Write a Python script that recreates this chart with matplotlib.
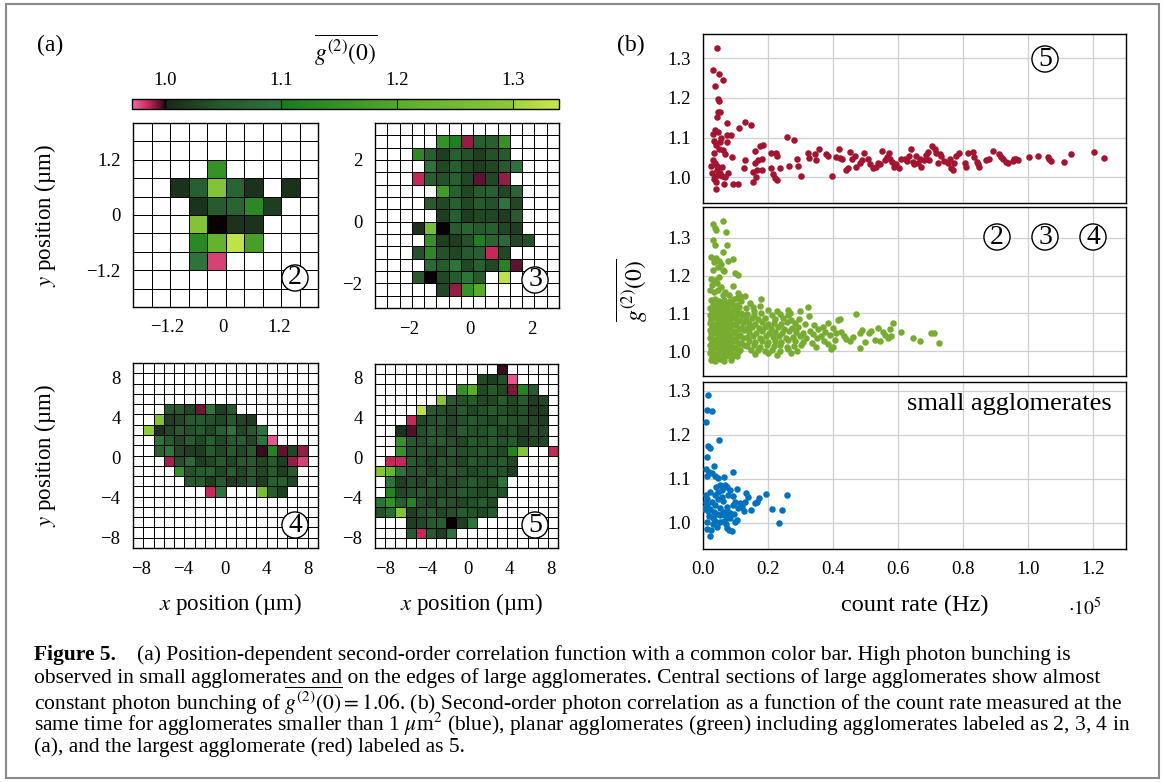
import numpy as np
import matplotlib
matplotlib.use("Agg")
import matplotlib.pyplot as plt
from matplotlib.colors import LinearSegmentedColormap, Normalize
from matplotlib.patches import Rectangle

plt.rcParams['font.family'] = ['Liberation Serif', 'DejaVu Serif']
plt.rcParams['mathtext.fontset'] = 'stix'

n = np.nan

# ---- (a) g2(0) maps, rows top -> bottom ----
map2 = [
    [n, n, n, n, n, n, n, n, n, n],
    [n, n, n, n, n, n, n, n, n, n],
    [n, n, n, n, 1.15, n, n, n, n, n],
    [n, n, 1.01, 1.06, 1.28, 1.07, 1.01, n, 1.01, n],
    [n, n, n, 1.01, 1.05, 1.07, 1.13, 1.02, n, n],
    [n, n, n, 1.28, 1.0, 1.01, 1.01, n, n, n],
    [n, n, n, 1.13, 1.22, 1.33, 1.18, n, n, n],
    [n, n, n, 1.10, 0.98, n, n, n, n, n],
    [n, n, n, n, n, n, n, n, n, n],
    [n, n, n, n, n, n, n, n, n, n],
]

map3 = [
    [n] * 15,
    [n, n, n, n, n, 1.15, 1.11, 0.99, 1.06, 1.06, 1.15, n, n, n, n],
    [n, n, n, 1.13, 1.06, 1.02, 1.06, 1.04, 1.02, 1.04, 1.05, n, n, n, n],
    [n, n, n, n, 1.10, 1.03, 1.06, 1.03, 1.02, 1.03, 1.05, 1.10, n, n, n],
    [n, n, n, 0.985, 1.06, 1.04, 1.06, 1.03, 0.995, 1.03, 0.99, n, n, n, n],
    [n, n, n, n, n, 1.17, 1.06, 1.03, 1.05, 1.06, 1.03, 1.07, n, n, n],
    [n, n, n, n, 1.05, 1.03, 1.06, 1.03, 1.05, 1.04, 1.10, 1.03, n, n, n],
    [n, n, n, n, n, 1.02, 1.06, 1.02, 1.03, 1.03, 1.02, 1.05, n, n, n],
    [n, n, n, 1.01, 1.26, 1.0, 1.05, 1.07, 1.05, 1.06, 1.03, 1.02, n, n, n],
    [n, n, n, n, 1.15, 1.02, 1.02, 1.04, 1.11, 1.07, 1.08, 1.03, 1.04, n, n],
    [n, n, n, 1.04, 1.13, 1.04, 1.03, 1.05, 1.06, 0.985, 1.03, n, n, n, n],
    [n, n, n, n, 1.08, 1.05, 1.10, 1.03, 1.06, 1.03, 1.12, 0.995, n, n, n],
    [n, n, n, 1.05, 1.0, 1.03, 1.05, 1.10, 1.05, n, 1.33, n, n, n, n],
    [n, n, n, n, n, 1.03, 0.99, 1.15, 1.20, n, n, n, n, n, n],
    [n] * 15,
]

map4 = [
    [n] * 18,
    [n] * 18,
    [n] * 18,
    [n] * 18,
    [n, n, n, 1.05, 1.05, 1.03, 0.993, 1.10, 1.02, 1.05, n, n, n, n, n, n, n, n],
    [n, n, 1.28, 1.02, 1.03, 1.05, 1.05, 1.04, 1.03, 1.05, 1.03, 1.02, n, n, n, n, n, n],
    [n, 1.30, 1.01, 1.03, 1.05, 1.04, 1.05, 1.03, 1.06, 1.10, 1.03, 1.05, 1.10, n, n, n, n, n],
    [n, n, 1.10, 1.05, 1.03, 1.05, 1.03, 1.06, 1.03, 1.05, 1.06, 1.03, 1.10, 0.975, n, n, n, n],
    [n, n, 1.07, 1.10, 1.03, 1.02, 1.02, 1.05, 1.03, 1.05, 1.03, 1.05, 0.998, 1.12, 0.995, 1.03, 0.99, n],
    [n, n, n, 0.988, 1.04, 1.08, 1.02, 1.03, 1.05, 1.03, 1.05, 1.05, 1.03, 1.05, 1.02, 0.99, 0.98, n],
    [n, n, n, n, 1.15, 1.04, 1.05, 1.06, 1.03, 1.06, 1.03, 1.05, 1.03, 1.05, 1.02, 1.05, n, n],
    [n, n, n, n, n, 1.05, 1.05, 1.02, 1.05, 1.02, 1.03, 1.05, 1.02, 1.06, 1.06, 1.03, n, n],
    [n, n, n, n, n, n, n, 0.985, 1.10, n, n, n, 1.26, 1.05, 1.02, n, n, n],
    [n] * 18,
    [n] * 18,
    [n] * 18,
    [n] * 18,
    [n] * 18,
]

map5 = [
    [n] * 12 + [0.998] + [n] * 5,
    [n] * 10 + [1.03, 1.02, 1.04, 0.975] + [n] * 4,
    [n] * 8 + [1.15, 1.20, 1.03, 1.05, 1.03, 0.992, 1.12, 1.05] + [n] * 2,
    [n] * 6 + [1.29, 1.05, 1.04, 1.05, 1.03, 1.03, 1.05, 1.03, 1.05, 1.02, 1.03] + [n],
    [n] * 4 + [1.33, 1.05, 1.04, 1.03, 1.05, 1.03, 1.04, 1.05, 1.04, 1.03, 1.04, 1.02, 1.02] + [n],
    [n] * 3 + [0.985, 1.03, 1.04, 1.05, 1.03, 1.04, 1.05, 1.04, 1.03, 1.05, 1.04, 1.04, 1.03, 1.02] + [n],
    [n] * 2 + [1.01, 0.996, 1.04, 1.05, 1.04, 1.03, 1.05, 1.04, 1.04, 1.05, 1.03, 1.04, 1.02, 1.04, 1.03] + [n],
    [n] * 2 + [1.15, 1.05, 1.04, 1.05, 1.06, 1.04, 1.03, 1.05, 1.04, 1.05, 1.04, 1.05, 1.02, 1.03, 1.03] + [n],
    [n] * 2 + [1.15, 1.04, 1.05, 1.04, 1.03, 1.05, 1.04, 1.04, 1.05, 1.04, 1.03, 1.12, 1.29] + [n, n, 0.985],
    [n] + [0.985, 0.985, 1.05, 1.04, 1.03, 1.05, 1.04, 1.03, 1.05, 1.04, 1.04, 1.05, 1.03] + [n] * 4,
    [1.29, 1.23, 1.10, 1.04, 1.05, 1.03, 1.04, 1.05, 1.04, 1.03, 1.04, 1.05, 1.04, 1.02] + [n] * 4,
    [n, 1.10, 1.02, 1.04, 1.03, 1.05, 1.04, 1.03, 1.04, 1.05, 1.04, 1.03, 1.10] + [n] * 5,
    [n, 1.12, 1.03, 1.04, 1.05, 1.04, 1.03, 1.04, 1.05, 1.04, 1.03, 1.05, 1.04] + [n] * 5,
    [1.10, 1.15, 1.06, 1.12, 1.04, 1.03, 1.05, 1.04, 1.03, 1.04, 1.05, 1.03] + [n] * 6,
    [1.04, 1.08, 1.28, 1.02, 1.04, 1.05, 1.03, 1.04, 1.05, 1.04, 1.03, 1.05] + [n] * 6,
    [n] * 3 + [1.02, 1.03, 1.05, 1.06, 1.0, 1.02, 1.10] + [n] * 8,
    [n] * 3 + [1.05, 0.985, 1.05, 1.02, 1.10] + [n] * 10,
    [n] * 18,
]

# extents of the maps (um): x range, y range
ext2 = ([-1.93, 2.03], [-1.99, 1.99])
ext3 = ([-3.1, 2.9], [-2.8, 3.2])
ext4 = ([-8.8, 9.0], [-9.05, 9.4])
ext5 = ([-9.0, 8.7], [-9.0, 9.4])

cbar_ticks = [1.0, 1.1, 1.2, 1.3]

# ---- (b) g2(0) vs count rate (x in units of 1e5 Hz) ----
red_x = [0.044, 0.030, 0.036, 0.048, 0.061, 0.045, 0.050, 0.047, 0.052, 0.044,
         0.075, 0.038, 0.047, 0.035, 0.052, 0.073, 0.086, 0.075, 0.048, 0.062,
         0.067, 0.089, 0.032, 0.037, 0.042, 0.052, 0.036, 0.039, 0.039, 0.057,
         0.067, 0.078, 0.064, 0.093, 0.108, 0.111, 0.129, 0.149, 0.129, 0.126,
         0.154, 0.154, 0.160, 0.160, 0.163, 0.165, 0.170, 0.175, 0.185, 0.181,
         0.180, 0.208, 0.208, 0.216, 0.221, 0.228, 0.226, 0.224, 0.236, 0.257,
         0.280, 0.263, 0.290, 0.292, 0.300, 0.323, 0.326, 0.344, 0.357, 0.347,
         0.379, 0.384, 0.397, 0.408, 0.417, 0.422, 0.428, 0.441, 0.446, 0.451,
         0.459, 0.466, 0.471, 0.482, 0.489, 0.496, 0.507, 0.514, 0.523, 0.531,
         0.538, 0.543, 0.551, 0.558, 0.566, 0.572, 0.576, 0.582, 0.586, 0.594,
         0.602, 0.609, 0.620, 0.627, 0.633, 0.640, 0.645, 0.647, 0.655, 0.661,
         0.666, 0.671, 0.678, 0.684, 0.691, 0.696, 0.705, 0.712, 0.717, 0.722,
         0.727, 0.732, 0.742, 0.753, 0.758, 0.763, 0.768, 0.771, 0.778, 0.786,
         0.804, 0.809, 0.814, 0.829, 0.834, 0.842, 0.845, 0.848, 0.870, 0.880,
         0.891, 0.911, 0.916, 0.921, 0.931, 0.937, 0.952, 0.957, 0.962, 0.967,
         1.003, 1.029, 1.059, 1.064, 1.070, 1.110, 1.131, 1.202, 1.233,
         0.026, 0.033, 0.041, 0.029, 0.055, 0.034, 0.043, 0.058, 0.030, 0.046]
red_y = [1.325, 1.269, 1.230, 1.261, 1.245, 1.197, 1.192, 1.165, 1.165, 1.152,
         1.137, 1.120, 1.115, 1.091, 1.089, 1.106, 1.106, 1.089, 1.071, 1.068,
         1.058, 1.051, 1.043, 1.035, 1.018, 1.011, 1.001, 0.988, 0.970, 1.003,
         1.001, 1.011, 0.984, 0.982, 0.982, 1.125, 1.140, 1.131, 1.043, 1.024,
         0.988, 1.013, 1.035, 1.066, 1.001, 1.019, 1.043, 1.078, 1.081, 1.047,
         1.018, 1.061, 1.024, 1.009, 0.997, 0.994, 1.053, 1.061, 1.024, 1.102,
         1.095, 1.028, 1.047, 1.028, 1.004, 1.061, 1.049, 1.058, 1.072, 1.043,
         1.058, 1.053, 1.004, 1.050, 1.072, 1.049, 1.045, 1.019, 1.024, 1.064,
         1.047, 1.053, 1.026, 1.036, 1.043, 1.060, 1.045, 1.033, 1.022, 1.026,
         1.036, 1.033, 1.067, 1.043, 1.051, 1.060, 1.045, 1.039, 1.026, 1.033,
         1.024, 1.047, 1.047, 1.041, 1.053, 1.070, 1.039, 1.033, 1.053, 1.035,
         1.047, 1.026, 1.043, 1.056, 1.064, 1.043, 1.078, 1.070, 1.061, 1.035,
         1.058, 1.053, 1.041, 1.036, 1.047, 1.024, 1.018, 1.035, 1.053, 1.060,
         1.035, 1.026, 1.061, 1.064, 1.050, 1.039, 1.033, 1.026, 1.043, 1.045,
         1.067, 1.058, 1.051, 1.045, 1.039, 1.035, 1.041, 1.045, 1.047, 1.043,
         1.050, 1.053, 1.051, 1.047, 1.041, 1.039, 1.058, 1.064, 1.049,
         1.028, 1.060, 1.080, 1.010, 1.098, 0.995, 1.028, 1.026, 1.108, 1.006]

green_x = [
    # upper column
    0.030, 0.037, 0.041, 0.062, 0.071, 0.030, 0.037, 0.073, 0.062, 0.026,
    0.040, 0.048, 0.034, 0.055, 0.093, 0.078, 0.045, 0.030, 0.060, 0.066,
    0.098, 0.108, 0.024, 0.036, 0.050, 0.042, 0.028, 0.093, 0.056, 0.022,
    0.034, 0.047, 0.068, 0.108, 0.114, 0.103, 0.080, 0.060, 0.128, 0.118,
    # dense low-rate block
    0.024, 0.036, 0.050, 0.066, 0.082, 0.095,
    0.030, 0.044, 0.058, 0.072, 0.088, 0.104,
    0.022, 0.038, 0.052, 0.064, 0.078, 0.096, 0.112,
    0.028, 0.042, 0.056, 0.070, 0.086, 0.100, 0.118,
    0.022, 0.034, 0.048, 0.062, 0.076, 0.092, 0.108, 0.124,
    0.026, 0.040, 0.054, 0.068, 0.082, 0.098, 0.114,
    0.022, 0.032, 0.046, 0.060, 0.074, 0.090, 0.106, 0.122,
    0.028, 0.042, 0.056, 0.070, 0.084, 0.100, 0.116,
    0.022, 0.036, 0.050, 0.064, 0.078, 0.094, 0.110, 0.126,
    0.026, 0.040, 0.054, 0.068, 0.084, 0.098, 0.114,
    0.022, 0.034, 0.048, 0.062, 0.076, 0.090, 0.106, 0.122,
    0.028, 0.042, 0.056, 0.070, 0.086, 0.102, 0.118,
    0.022, 0.036, 0.050, 0.064, 0.080, 0.094, 0.110, 0.126,
    0.026, 0.040, 0.054, 0.068, 0.082, 0.098, 0.114,
    0.022, 0.034, 0.048, 0.062, 0.078, 0.092, 0.108,
    0.028, 0.042, 0.056, 0.072, 0.088, 0.104,
    0.024, 0.038, 0.052, 0.066, 0.086,
    # mid-rate block
    0.136, 0.158, 0.178, 0.212, 0.236, 0.262,
    0.132, 0.150, 0.170, 0.192, 0.222, 0.246, 0.270, 0.296,
    0.140, 0.160, 0.180, 0.200, 0.218, 0.240, 0.258, 0.284, 0.312,
    0.134, 0.152, 0.172, 0.190, 0.210, 0.230, 0.250, 0.272, 0.292,
    0.142, 0.162, 0.182, 0.202, 0.222, 0.244, 0.264, 0.286, 0.306, 0.328,
    0.136, 0.154, 0.174, 0.194, 0.214, 0.234, 0.256, 0.276, 0.298, 0.318,
    0.140, 0.160, 0.180, 0.200, 0.220, 0.240, 0.262, 0.284, 0.306,
    0.134, 0.156, 0.176, 0.196, 0.218, 0.238, 0.258, 0.280, 0.300,
    0.146, 0.168, 0.190, 0.212, 0.236, 0.262, 0.290,
    0.160, 0.200, 0.226, 0.270,
    0.177, 0.154, 0.132, 0.156, 0.226, 0.262, 0.267, 0.200, 0.145, 0.175,
    # tail
    0.323, 0.325, 0.298, 0.340, 0.352, 0.338, 0.350, 0.336, 0.348, 0.362,
    0.369, 0.384, 0.376, 0.390, 0.384, 0.372, 0.400, 0.405, 0.398, 0.410,
    0.415, 0.420, 0.425, 0.432, 0.440, 0.451, 0.461, 0.471, 0.482, 0.488,
    0.482, 0.499, 0.510, 0.517, 0.538, 0.553, 0.558, 0.569, 0.576, 0.584,
    0.578, 0.609, 0.645, 0.666, 0.701, 0.711, 0.725, 0.530, 0.545, 0.392]
green_y = [
    1.338, 1.327, 1.320, 1.344, 1.316, 1.294, 1.282, 1.280, 1.264, 1.250,
    1.246, 1.240, 1.236, 1.232, 1.244, 1.238, 1.222, 1.215, 1.214, 1.212,
    1.207, 1.202, 1.192, 1.188, 1.196, 1.180, 1.176, 1.173, 1.170, 1.163,
    1.158, 1.162, 1.158, 1.154, 1.146, 1.140, 1.150, 1.148, 1.145, 1.132,
    1.135, 1.138, 1.132, 1.136, 1.133, 1.137,
    1.125, 1.122, 1.127, 1.124, 1.126, 1.121,
    1.115, 1.113, 1.117, 1.114, 1.116, 1.112, 1.118,
    1.105, 1.107, 1.103, 1.106, 1.104, 1.108, 1.102,
    1.095, 1.093, 1.097, 1.094, 1.096, 1.092, 1.098, 1.095,
    1.085, 1.087, 1.083, 1.086, 1.084, 1.088, 1.082,
    1.075, 1.073, 1.077, 1.074, 1.076, 1.072, 1.078, 1.075,
    1.065, 1.067, 1.063, 1.066, 1.064, 1.068, 1.062,
    1.055, 1.053, 1.057, 1.054, 1.056, 1.052, 1.058, 1.055,
    1.045, 1.047, 1.043, 1.046, 1.044, 1.048, 1.042,
    1.035, 1.033, 1.037, 1.034, 1.036, 1.032, 1.038, 1.035,
    1.025, 1.027, 1.023, 1.026, 1.024, 1.028, 1.022,
    1.015, 1.013, 1.017, 1.014, 1.016, 1.012, 1.018, 1.015,
    1.005, 1.007, 1.003, 1.006, 1.004, 1.008, 1.002,
    0.995, 0.993, 0.997, 0.994, 0.996, 0.992, 0.998,
    0.985, 0.987, 0.983, 0.986, 0.984, 0.988,
    0.976, 0.974, 0.978, 0.975, 0.977,
    1.098, 1.096, 1.100, 1.097, 1.099, 1.095,
    1.086, 1.088, 1.084, 1.087, 1.085, 1.089, 1.083, 1.086,
    1.074, 1.072, 1.076, 1.073, 1.075, 1.071, 1.077, 1.074, 1.072,
    1.062, 1.064, 1.060, 1.063, 1.061, 1.065, 1.059, 1.062, 1.064,
    1.050, 1.048, 1.052, 1.049, 1.051, 1.047, 1.053, 1.050, 1.048, 1.052,
    1.038, 1.040, 1.036, 1.039, 1.037, 1.041, 1.035, 1.038, 1.040, 1.036,
    1.026, 1.024, 1.028, 1.025, 1.027, 1.023, 1.029, 1.026, 1.024,
    1.014, 1.016, 1.012, 1.015, 1.013, 1.017, 1.011, 1.014, 1.016,
    1.002, 1.004, 1.000, 1.003, 1.001, 1.005, 0.999,
    0.992, 0.994, 0.990, 0.996,
    1.138, 1.118, 1.114, 1.106, 1.105, 1.109, 1.100, 1.110, 1.128, 1.120,
    1.116, 1.093, 1.105, 1.070, 1.058, 1.046, 1.034, 1.022, 1.010, 1.040,
    1.065, 1.075, 1.050, 1.042, 1.020, 1.028, 1.012, 1.030, 1.060, 1.047,
    1.083, 1.084, 1.051, 1.040, 1.032, 1.027, 1.038, 1.098, 1.049, 1.055,
    1.009, 1.025, 1.049, 1.054, 1.060, 1.050, 1.043, 1.036, 1.059, 1.074,
    1.040, 1.051, 1.034, 1.027, 1.047, 1.049, 1.022, 1.030, 1.028, 1.005]

blue_x = [0.016, 0.013, 0.027, 0.009, 0.016, 0.021, 0.050, 0.013, 0.009, 0.019,
          0.034, 0.013, 0.027, 0.037, 0.047, 0.064, 0.091, 0.052, 0.040, 0.067,
          0.073, 0.057, 0.103, 0.132, 0.139, 0.193, 0.259, 0.173, 0.165, 0.160,
          0.129, 0.113, 0.098, 0.093, 0.078, 0.073, 0.062, 0.047, 0.037, 0.021,
          0.013, 0.009, 0.003, 0.016, 0.027, 0.037, 0.052, 0.060, 0.067, 0.075,
          0.083, 0.095, 0.103, 0.126, 0.149, 0.211, 0.243, 0.233, 0.019, 0.032,
          0.013, 0.011, 0.024, 0.021, 0.030, 0.037, 0.042, 0.052, 0.064, 0.071,
          0.073, 0.081, 0.088, 0.075, 0.083, 0.098, 0.057, 0.047, 0.083, 0.011,
          0.001, 0.093, 0.052, 0.042, 0.034, 0.009, 0.021, 0.108, 0.119]
blue_y = [1.290, 1.256, 1.254, 1.228, 1.174, 1.170, 1.188, 1.150, 1.122, 1.116,
          1.130, 1.106, 1.112, 1.105, 1.101, 1.103, 1.116, 1.086, 1.082, 1.086,
          1.080, 1.074, 1.077, 1.067, 1.059, 1.065, 1.063, 1.057, 1.048, 1.044,
          1.048, 1.044, 1.048, 1.040, 1.063, 1.036, 1.049, 1.054, 1.063, 1.069,
          1.054, 1.048, 1.031, 1.027, 1.048, 1.040, 1.034, 1.025, 1.017, 1.027,
          1.021, 1.019, 1.006, 1.027, 1.029, 1.031, 1.029, 1.000, 1.014, 1.010,
          1.002, 0.986, 0.983, 0.970, 0.998, 1.004, 0.991, 1.002, 1.004, 0.998,
          0.987, 0.983, 0.980, 1.010, 1.010, 1.002, 1.059, 1.070, 1.074, 1.040,
          1.033, 1.061, 1.017, 1.019, 1.025, 1.063, 1.031, 1.034, 1.036]

x_ticks = [0.0, 0.2, 0.4, 0.6, 0.8, 1.0, 1.2]
y_ticks = [1.0, 1.1, 1.2, 1.3]

# colour scale of the maps
vmin, vmax = 0.971, 1.34
def p(v):
    return (v - vmin) / (vmax - vmin)
cmap = LinearSegmentedColormap.from_list('g2', [
    (0.0, '#f26aa8'), (p(0.985), '#c42858'), (p(0.995), '#5c1430'),
    (p(0.9995), '#1c0810'), (p(1.0), '#000000'), (p(1.0008), '#182818'),
    (p(1.02), '#1f3d20'), (p(1.05), '#275b2d'), (p(1.0999), '#2e723c'),
    (p(1.1001), '#1b7a22'), (p(1.1999), '#52a82b'), (p(1.2001), '#5aad2d'),
    (p(1.2999), '#8cc83a'), (p(1.3001), '#a0d23e'), (1.0, '#c8e84c')], N=1024)
cmap.set_bad('white')
norm = Normalize(vmin, vmax)

W, H = 1165, 782
fig = plt.figure(figsize=(W / 100, H / 100), dpi=100)


def px_axes(l, t, r, b):
    return fig.add_axes([l / W, 1 - b / H, (r - l) / W, (b - t) / H])


def ftext(x, y, s, **kw):
    return fig.text(x / W, 1 - y / H, s, **kw)


def draw_map(ax, data, ext, ticks, labels):
    data = np.array(data, dtype=float)
    ny, nx = data.shape
    xe = np.linspace(ext[0][0], ext[0][1], nx + 1)
    ye = np.linspace(ext[1][1], ext[1][0], ny + 1)
    ax.pcolormesh(xe, ye, np.ma.masked_invalid(data), cmap=cmap, norm=norm,
                  edgecolors='black', linewidth=0.7)
    ax.set_xlim(ext[0])
    ax.set_ylim(ext[1])
    ax.set_xticks(ticks)
    ax.set_xticklabels(labels)
    ax.set_yticks(ticks)
    ax.set_yticklabels(labels)
    ax.tick_params(length=0, labelsize=13.5, pad=9)
    for s in ax.spines.values():
        s.set_linewidth(1.0)


ax2 = px_axes(133, 123, 318, 307)
draw_map(ax2, map2, ext2, [-1.2, 0, 1.2], ['\u22121.2', '0', '1.2'])
ax3 = px_axes(375, 123, 559, 308)
draw_map(ax3, map3, ext3, [-2, 0, 2], ['\u22122', '0', '2'])
ax4 = px_axes(133, 363, 318, 548)
draw_map(ax4, map4, ext4, [-8, -4, 0, 4, 8], ['\u22128', '\u22124', '0', '4', '8'])
ax5 = px_axes(375, 364, 558, 548)
draw_map(ax5, map5, ext5, [-8, -4, 0, 4, 8], ['\u22128', '\u22124', '0', '4', '8'])

for y in (215, 455):
    ftext(45, y, '$y$ position (\u00b5m)', rotation=90, ha='center', va='center', fontsize=16.5)
for x in (231, 472):
    ftext(x, 604, '$x$ position (\u00b5m)', ha='center', va='center', fontsize=16.5)

# colour bar
cax = px_axes(132, 99, 559, 109)
sm = plt.cm.ScalarMappable(norm=norm, cmap=cmap)
cb = fig.colorbar(sm, cax=cax, orientation='horizontal')
cb.outline.set_linewidth(1.0)
cax.xaxis.set_ticks_position('top')
cax.set_xticks(cbar_ticks)
cax.set_xticklabels(['%.1f' % t for t in cbar_ticks])
cax.tick_params(length=0, labelsize=13.5, pad=7)
for t in cbar_ticks[1:]:
    cax.axvline(t, color='black', lw=0.8)
ftext(346, 50, r'$\overline{g^{(2)}(0)}$', ha='center', va='center', fontsize=17)

ftext(50, 45, '(a)', ha='center', va='center', fontsize=17)
ftext(631, 45, '(b)', ha='center', va='center', fontsize=17)

# (b) scatter panels
panels = [
    ((703, 34, 1126, 203), red_x, red_y, '#a2142f', (0.935, 1.361)),
    ((703, 207, 1126, 376), green_x, green_y, '#77ac30', (0.934, 1.382)),
    ((703, 382, 1126, 549), blue_x, blue_y, '#0072bd', (0.94, 1.32)),
]
sax = []
for box, xs, ys, col, ylim in panels:
    ax = px_axes(*box)
    ax.set_axisbelow(True)
    ax.grid(True, color='#cfcfcf', lw=0.9)
    ax.scatter(xs, ys, s=22, color=col, linewidths=0, zorder=3)
    ax.set_xlim(0, 1.3)
    ax.set_ylim(*ylim)
    ax.set_xticks(x_ticks)
    ax.set_yticks(y_ticks)
    ax.set_yticklabels(['%.1f' % t for t in y_ticks])
    ax.tick_params(length=0, labelsize=13.5, pad=9)
    for s in ax.spines.values():
        s.set_linewidth(1.0)
    sax.append(ax)
for ax in sax[:2]:
    ax.set_xticklabels([])
sax[2].set_xticklabels(['%.1f' % t for t in x_ticks])

ftext(632, 290, r'$\overline{g^{(2)}(0)}$', rotation=90, ha='center', va='center', fontsize=17)
ftext(915, 605, 'count rate (Hz)', ha='center', va='center', fontsize=17.5)
ftext(1085, 608, r'$\cdot10^5$', ha='center', va='center', fontsize=14)
ftext(1112, 404, 'small agglomerates', ha='right', va='center', fontsize=19)

circ = dict(boxstyle='circle,pad=0.02', fc='white', ec='black', lw=1.0)
for x, y, s in [(295, 278, '2'), (535, 280, '3'), (295, 525, '4'), (535, 525, '5'),
                (1045, 59, '5'), (997, 237, '2'), (1045, 237, '3'), (1093, 237, '4')]:
    ftext(x, y, s, ha='center', va='center', fontsize=20, bbox=circ)

# caption
cfs = 15.5
ftext(34, 655, 'Figure 5.', ha='left', va='center', fontsize=cfs, fontweight='bold')
ftext(137, 655, '(a) Position-dependent second-order correlation function with a common color bar. '
      'High photon bunching is', ha='left', va='center', fontsize=cfs)
ftext(34, 678, 'observed in small agglomerates and on the edges of large agglomerates. Central '
      'sections of large agglomerates show almost', ha='left', va='center', fontsize=cfs)
ftext(34, 701, r'constant photon bunching of $\overline{g^{(2)}(0)} = 1.06$. (b) Second-order photon '
      'correlation as a function of the count rate measured at the', ha='left', va='center', fontsize=cfs)
ftext(34, 724, r'same time for agglomerates smaller than 1 $\mu$m$^2$ (blue), planar agglomerates '
      '(green) including agglomerates labeled as 2, 3, 4 in', ha='left', va='center', fontsize=cfs)
ftext(34, 747, '(a), and the largest agglomerate (red) labeled as 5.', ha='left', va='center', fontsize=cfs)

fig.patches.append(Rectangle((6 / W, 1 - 778 / H), (1159 - 6) / W, (778 - 4) / H,
                             transform=fig.transFigure, fill=False, ec='#8a8a8a', lw=1.5))

fig.savefig('out.png', dpi=100)
